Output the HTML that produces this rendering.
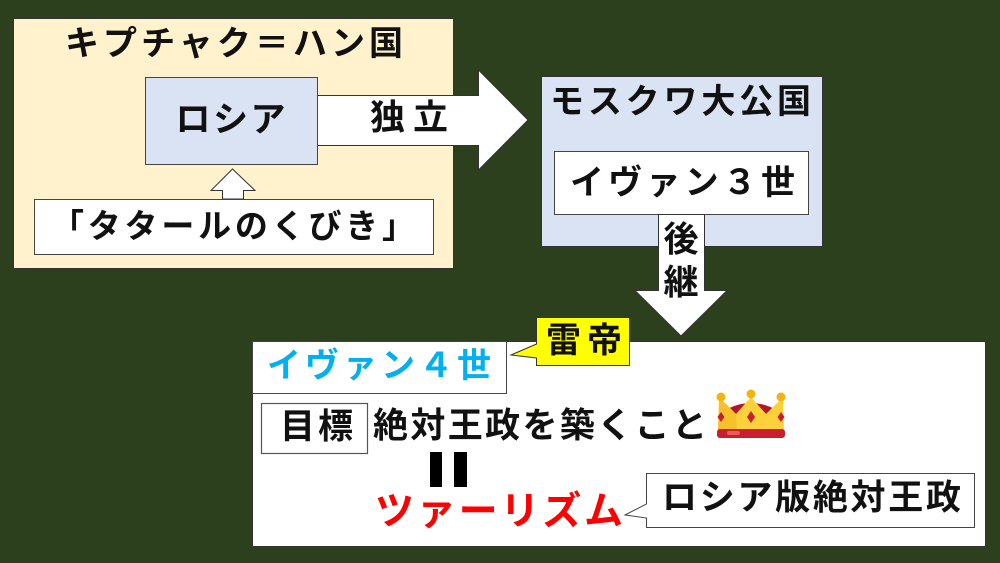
<!DOCTYPE html>
<html><head><meta charset="utf-8"><style>
html,body{margin:0;padding:0;background:#2c401e;}
svg{display:block;}
text{font-family:"Liberation Sans","Noto Sans CJK JP",sans-serif;font-weight:700;fill:#111;dominant-baseline:central;text-anchor:middle;}
</style></head><body>
<svg width="1000" height="563" viewBox="0 0 1000 563" xmlns="http://www.w3.org/2000/svg">
<rect x="0" y="0" width="1000" height="563" fill="#2c401e"/>
<!-- Kipchak box -->
<rect x="13.5" y="18.5" width="440" height="250" fill="#fff2cc" stroke="#333" stroke-width="1"/>
<text x="234" y="44" font-size="34" textLength="338" lengthAdjust="spacing">キプチャク＝ハン国</text>
<!-- independence arrow -->
<path d="M317,95.5 L478.5,95.5 L478.5,70 L528,120 L478.5,170 L478.5,145.5 L317,145.5 Z" fill="#fff" stroke="#333" stroke-width="1"/>
<text x="409" y="118" font-size="35" textLength="78" lengthAdjust="spacing">独立</text>
<!-- Russia box -->
<rect x="145.5" y="77.5" width="172" height="87" fill="#dae3f3" stroke="#444" stroke-width="1"/>
<text x="230.5" y="120" font-size="35" textLength="110" lengthAdjust="spacing">ロシア</text>
<!-- up arrow -->
<path d="M232.5,169 L255,190.5 L243.5,190.5 L243.5,199 L222.5,199 L222.5,190.5 L211,190.5 Z" fill="#fff" stroke="#333" stroke-width="1"/>
<!-- Tatar box -->
<rect x="34.5" y="199.5" width="399" height="55" fill="#fff" stroke="#444" stroke-width="1"/>
<text x="233" y="226" font-size="33" textLength="364" lengthAdjust="spacing">「タタールのくびき」</text>
<!-- Moscow box -->
<rect x="541.5" y="76.5" width="281" height="170" fill="#dae3f3" stroke="#333" stroke-width="1"/>
<text x="680.5" y="102" font-size="34" textLength="261" lengthAdjust="spacing">モスクワ大公国</text>
<rect x="554.5" y="151.5" width="254" height="63" fill="#fff" stroke="#444" stroke-width="1"/>
<text x="682.5" y="183" font-size="34" textLength="225" lengthAdjust="spacing">イヴァン３世</text>
<!-- succession arrow -->
<path d="M658.5,214.5 L704.5,214.5 L704.5,290.5 L727,290.5 L681,336 L635,290.5 L658.5,290.5 Z" fill="#fff" stroke="#333" stroke-width="1"/>
<text x="681" y="240" font-size="35">後</text>
<text x="681" y="283" font-size="35">継</text>
<!-- big bottom box -->
<rect x="252.5" y="341.5" width="733" height="205" fill="#fff" stroke="#333" stroke-width="1"/>
<rect x="252.5" y="341.5" width="254" height="52" fill="#fff" stroke="#444" stroke-width="1"/>
<text x="379" y="366" font-size="34" textLength="224" lengthAdjust="spacing" style="fill:#00b0f0">イヴァン４世</text>
<!-- 雷帝 callout -->
<path d="M536.5,317.5 L629.5,317.5 L629.5,365.5 L536.5,365.5 L536.5,358 L511,355 L536.5,344 Z" fill="#ffff00" stroke="#333" stroke-width="1"/>
<text x="584" y="341" font-size="35" textLength="76" lengthAdjust="spacing">雷帝</text>
<!-- 目標 -->
<rect x="261.5" y="403.5" width="106" height="50" fill="#fff" stroke="#555" stroke-width="1.2"/>
<text x="316.5" y="427" font-size="35" textLength="73" lengthAdjust="spacing">目標</text>
<text x="540" y="426" font-size="35" textLength="334" lengthAdjust="spacing">絶対王政を築くこと</text>
<!-- crown -->
<g>
<path d="M722,412 Q751,394 780,412 L780,428 L722,428 Z" fill="#b3162b"/>
<path d="M718,430 L719,402 L721,399 L736,414 L751,397 L766,414 L781,399 L783,402 L784,430 Z" fill="#fcd13a"/>
<path d="M718,430 L719,402 L721,399 L736,414 L737,430 Z" fill="#f6c12a"/>
<circle cx="721" cy="397" r="4.5" fill="#f5b40a"/>
<circle cx="751" cy="394" r="4.5" fill="#f5b40a"/>
<circle cx="781" cy="397" r="4.5" fill="#f5b40a"/>
<path d="M721,412 L724.5,417 L721,422 L717.5,417 Z" fill="#c81e2e"/>
<path d="M751,411 L755,417 L751,423 L747,417 Z" fill="#c81e2e"/>
<path d="M781,412 L784.5,417 L781,422 L777.5,417 Z" fill="#c81e2e"/>
<rect x="717" y="429" width="68" height="9" rx="3" fill="#c81e2e"/>
<rect x="727" y="431" width="13" height="4" rx="2" fill="#ef5a5a"/>
</g>
<!-- equals bars -->
<rect x="430" y="452" width="12" height="35" fill="#000"/>
<rect x="454" y="452" width="13" height="35" fill="#000"/>
<text x="499" y="512" font-size="39" textLength="248" lengthAdjust="spacing" style="fill:#ff0000">ツァーリズム</text>
<!-- Russian absolutism callout -->
<path d="M646.5,473.5 L974.5,473.5 L974.5,527.5 L646.5,527.5 L646.5,518 L625,515 L646.5,504 Z" fill="#fff" stroke="#444" stroke-width="1"/>
<text x="811.5" y="498" font-size="35" textLength="299" lengthAdjust="spacing">ロシア版絶対王政</text>
</svg>
</body></html>
